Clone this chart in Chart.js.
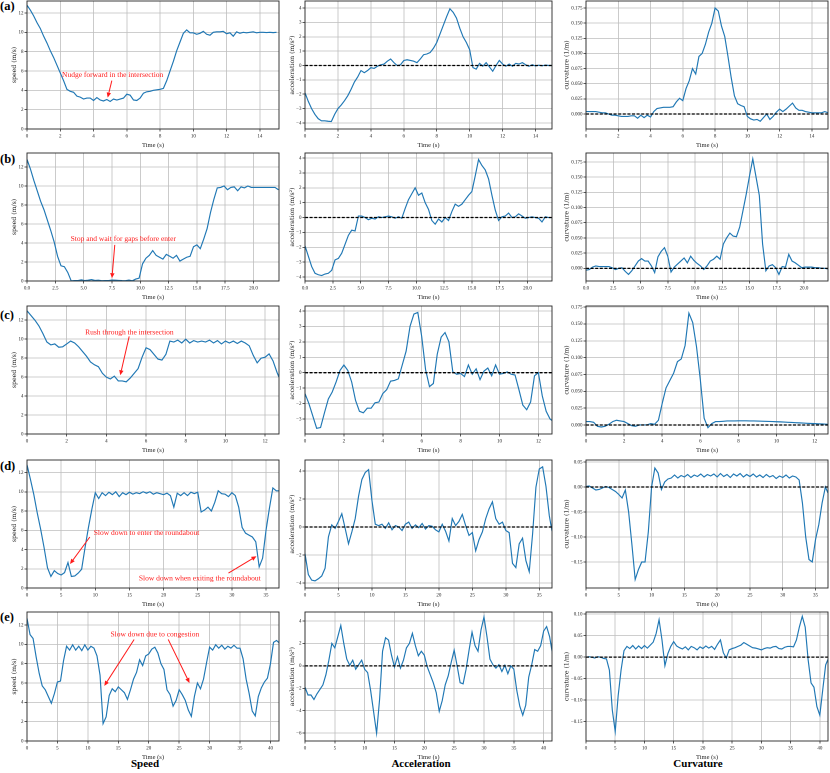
<!DOCTYPE html>
<html><head><meta charset="utf-8">
<script src="https://cdn.jsdelivr.net/npm/chart.js@4.4.1/dist/chart.umd.min.js"></script>
<style>
html,body{margin:0;padding:0;background:#fff;}
#wrap{position:relative;width:830px;height:773px;overflow:hidden;background:#fff;}
#wrap canvas{position:absolute;}
.lab{position:absolute;font-family:"Liberation Serif",serif;font-weight:bold;font-size:12.5px;line-height:12.5px;color:#000;}
.ctit{position:absolute;font-family:"Liberation Serif",serif;font-weight:bold;font-size:11px;line-height:12px;width:120px;text-align:center;color:#000;}
</style></head><body>
<div id="wrap">
<div class="lab" style="left:0px;top:-0.5px">(a)</div>
<div class="lab" style="left:0px;top:152.5px">(b)</div>
<div class="lab" style="left:0px;top:309px">(c)</div>
<div class="lab" style="left:0px;top:459.5px">(d)</div>
<div class="lab" style="left:0px;top:610.5px">(e)</div>
<div class="ctit" style="left:85px;top:757px">Speed</div>
<div class="ctit" style="left:361px;top:757px">Acceleration</div>
<div class="ctit" style="left:638px;top:757px">Curvature</div>
</div>
<script>
// ---------------- data ----------------
const tA = [0,0.2,0.4,0.6,0.8,1,1.2,1.4,1.6,1.8,2,2.2,2.4,2.6,2.8,3,3.2,3.4,3.6,3.8,4,4.2,4.4,4.6,4.8,5,5.2,5.4,5.6,5.8,6,6.2,6.4,6.6,6.8,7,7.2,7.4,7.6,7.8,8,8.2,8.4,8.6,8.8,9,9.2,9.4,9.6,9.8,10,10.2,10.4,10.6,10.8,11,11.2,11.4,11.6,11.8,12,12.2,12.4,12.6,12.8,13,13.2,13.4,13.6,13.8,14,14.2,14.4,14.6,14.8,15];
const speedA = [12.8,12.3,11.7,11.0,10.4,9.6,8.9,8.1,7.4,6.6,5.8,5.0,4.1,3.9,3.8,3.4,3.3,3.1,3.2,3.2,2.95,3.25,3.0,2.9,3.05,2.85,3.1,3.0,3.1,3.2,3.6,3.5,3.0,2.95,3.2,3.7,3.85,3.9,4.0,4.05,4.1,4.2,5.0,6.0,7.0,8.1,9.0,9.9,10.25,9.95,9.95,9.8,9.9,10.1,9.8,9.7,10.0,10.05,10.05,10.1,9.85,9.95,9.6,10.05,9.9,10.0,9.95,10.0,10.05,9.95,10.0,10.0,9.98,10.0,9.97,10.0];
const accA = [-1.9,-2.5,-3.0,-3.4,-3.7,-3.85,-3.85,-3.88,-3.9,-3.4,-3.0,-2.75,-2.45,-2.1,-1.65,-1.15,-0.8,-0.35,-0.5,-0.35,-0.15,-0.2,-0.05,0.05,0.1,0.3,0.45,0.2,0.0,0.05,0.35,0.4,0.35,0.3,0.2,0.45,0.75,0.8,0.9,1.2,1.6,2.2,2.8,3.4,3.95,3.7,3.3,2.6,2.0,1.6,1.1,-0.15,-0.25,0.15,-0.05,0.2,-0.1,-0.4,0.0,0.35,0.1,-0.05,0.1,-0.05,0.15,0.1,0.2,0.05,-0.05,0.05,-0.03,0.02,-0.02,0.03,0.0,0.0];
const curvA = [0.004,0.004,0.004,0.004,0.003,0.002,0.002,0.0,-0.002,-0.002,-0.003,-0.004,-0.004,-0.004,-0.003,-0.003,-0.007,-0.002,-0.006,-0.002,-0.005,0.004,0.009,0.010,0.011,0.011,0.011,0.012,0.020,0.026,0.022,0.042,0.055,0.075,0.066,0.095,0.100,0.115,0.135,0.150,0.175,0.170,0.145,0.128,0.095,0.060,0.030,0.017,0.014,0.012,-0.004,-0.008,-0.010,-0.009,-0.012,-0.006,0.000,-0.009,-0.004,0.003,0.008,0.004,0.008,0.013,0.018,0.010,0.006,0.006,0.004,0.003,0.002,0.002,0.002,0.002,0.004,0.002];

const tB = [0,0.3,0.6,0.9,1.2,1.5,1.8,2.1,2.4,2.7,3,3.3,3.6,3.9,4.2,4.5,4.8,5.1,5.4,5.7,6,6.3,6.6,6.9,7.2,7.5,7.8,8.1,8.4,8.7,9,9.3,9.6,9.9,10.2,10.5,10.8,11.1,11.4,11.7,12,12.3,12.6,12.9,13.2,13.5,13.8,14.1,14.4,14.7,15,15.3,15.6,15.9,16.2,16.5,16.8,17.1,17.4,17.7,18,18.3,18.6,18.9,19.2,19.5,19.8,20.1,20.4,20.7,21,21.3,21.6,21.9,22.2];
const speedB = [12.8,11.8,10.6,9.5,8.4,7.5,6.4,5.3,4.1,2.6,1.6,1.5,0.9,0.02,0.05,0.04,0.12,0.05,0.08,0.15,0.06,0.08,0.03,0.05,0.04,0.1,0.08,0.06,0.04,0.03,0.1,0.02,0.2,0.3,1.8,2.4,2.7,3.2,2.7,2.5,2.3,2.8,2.6,2.4,2.7,2.1,2.3,2.5,2.6,3.6,3.8,3.4,4.4,5.5,7.2,8.6,9.8,9.85,10.0,9.6,9.85,9.9,9.5,9.9,9.8,10.0,9.85,9.85,9.85,9.85,9.85,9.85,9.85,9.85,9.6];
const accB = [-1.9,-2.6,-3.3,-3.75,-3.85,-3.9,-3.8,-3.75,-3.55,-2.85,-2.75,-2.4,-1.8,-1.2,-0.85,-0.9,0.1,0.1,0.0,-0.15,-0.05,-0.1,0.05,0.0,0.05,0.1,0.05,-0.05,0.05,-0.05,0.6,1.2,1.6,2.0,1.5,1.65,1.0,0.55,-0.2,-0.45,-0.1,-0.3,0.0,-0.2,0.4,0.9,0.75,0.9,1.2,1.5,1.75,2.8,3.9,3.5,3.2,2.6,1.5,0.5,-0.2,0.05,0.1,0.3,0.0,0.05,0.25,0.1,-0.05,0.0,0.05,0.0,-0.05,-0.3,0.05,0.0,0.0];
const curvB = [-0.003,-0.002,0.002,0.004,0.003,0.003,0.003,0.003,0.001,-0.002,0.000,0.001,-0.005,-0.010,-0.004,0.004,0.012,0.016,0.012,0.012,0.004,-0.007,0.019,0.028,0.034,0.020,-0.006,0.002,0.007,0.012,0.017,0.009,0.020,0.013,0.008,0.004,-0.002,0.004,0.012,0.015,0.020,0.015,0.040,0.050,0.058,0.053,0.052,0.068,0.095,0.122,0.152,0.180,0.150,0.120,0.040,-0.004,0.004,0.006,0.001,-0.010,0.003,0.002,0.023,0.012,0.009,0.005,0.001,0.002,0.002,0.002,0.001,0.001,0.000,0.000,-0.001];

const tC = [0,0.2,0.4,0.6,0.8,1,1.2,1.4,1.6,1.8,2,2.2,2.4,2.6,2.8,3,3.2,3.4,3.6,3.8,4,4.2,4.4,4.6,4.8,5,5.2,5.4,5.6,5.8,6,6.2,6.4,6.6,6.8,7,7.2,7.4,7.6,7.8,8,8.2,8.4,8.6,8.8,9,9.2,9.4,9.6,9.8,10,10.2,10.4,10.6,10.8,11,11.2,11.4,11.6,11.8,12,12.2,12.4,12.6,12.7];
const speedC = [13.0,12.5,12.0,11.4,10.6,9.7,9.4,9.5,9.15,9.2,9.5,9.8,9.6,9.2,8.7,8.2,7.6,7.3,7.1,6.4,6.0,5.8,6.1,5.6,5.6,5.5,5.9,6.4,6.9,8.1,9.1,8.9,8.4,7.9,7.8,8.4,9.8,9.7,9.9,9.6,10.0,9.6,9.85,9.7,9.8,9.7,9.9,9.6,9.85,9.5,9.8,9.6,9.8,9.55,9.8,9.6,9.3,8.3,7.5,8.0,8.1,8.45,7.7,6.5,6.0];
const accC = [-1.35,-2.0,-2.8,-3.6,-3.55,-2.6,-1.7,-1.25,-0.6,0.15,0.5,0.15,-0.6,-1.8,-2.5,-2.6,-2.3,-2.3,-1.95,-1.9,-1.35,-1.1,-0.55,-0.5,-0.4,0.5,1.4,3.0,3.8,3.9,2.35,0.2,-0.9,-0.7,1.2,2.3,2.6,2.0,0.05,-0.1,-0.05,-0.25,0.5,-0.1,0.25,-0.45,0.1,0.3,-0.2,0.5,-0.1,-0.05,0.05,-0.1,-0.15,-1.1,-2.1,-2.4,-1.9,-0.2,0.0,-1.5,-2.5,-3.0,-3.1];
const curvC = [0.005,0.005,0.004,-0.002,-0.003,-0.002,0.001,0.005,0.007,0.006,0.005,0.002,-0.001,-0.002,0.000,0.000,0.000,0.002,0.001,0.007,0.032,0.055,0.066,0.077,0.094,0.098,0.118,0.166,0.152,0.116,0.067,0.010,-0.004,0.002,0.005,0.005,0.0055,0.006,0.006,0.006,0.0062,0.0062,0.0062,0.006,0.006,0.0058,0.0056,0.0054,0.0052,0.005,0.0048,0.0046,0.0043,0.004,0.0037,0.0034,0.0031,0.0028,0.0025,0.0022,0.002,0.0017,0.0015,0.0012,0.001];

const tD = [0,0.5,1,1.5,2,2.5,3,3.5,4,4.5,5,5.5,6,6.5,7,7.5,8,8.5,9,9.5,10,10.5,11,11.5,12,12.5,13,13.5,14,14.5,15,15.5,16,16.5,17,17.5,18,18.5,19,19.5,20,20.5,21,21.5,22,22.5,23,23.5,24,24.5,25,25.5,26,26.5,27,27.5,28,28.5,29,29.5,30,30.5,31,31.5,32,32.5,33,33.5,34,34.5,35,35.5,36,36.5,36.9];
const speedD = [12.8,11.3,9.7,7.8,6.1,4.2,2.1,1.2,1.8,1.5,1.35,1.6,2.65,1.2,1.25,1.55,1.95,4.2,6.3,8.2,9.9,9.3,9.9,9.6,9.95,9.7,10.0,9.5,9.9,9.7,9.95,9.75,9.9,9.8,10.0,9.85,10.0,9.75,9.9,9.8,9.7,9.85,9.6,8.4,9.85,9.6,9.9,9.6,9.95,9.8,9.95,7.9,8.1,8.4,8.0,8.9,10.1,9.8,9.75,9.5,9.9,9.6,8.4,6.3,5.7,5.5,5.3,4.8,2.2,3.1,6.0,8.3,10.4,10.1,10.1];
const accD = [-1.9,-3.4,-3.8,-3.85,-3.7,-3.5,-2.95,-0.7,0.15,-0.1,0.4,0.95,-0.1,-1.2,-0.35,0.6,2.2,3.4,3.9,4.1,1.9,0.2,0.1,0.2,-0.1,0.3,-0.2,0.1,0.0,-0.25,0.2,0.35,-0.1,0.15,-0.05,0.25,-0.15,0.1,0.05,-0.2,-0.35,0.2,-0.3,-1.0,0.6,0.1,0.4,0.9,0.1,-0.6,-0.4,-1.7,-0.9,-0.35,0.6,1.3,1.8,0.6,0.2,0.35,-0.25,-0.4,-2.6,-2.9,-1.2,-0.8,-2.4,-3.2,-0.5,2.85,4.15,4.3,2.9,0.8,-0.3];
const curvD = [0.001,0.002,-0.002,-0.006,-0.005,-0.002,0.001,-0.001,-0.005,-0.009,-0.015,-0.022,-0.006,-0.05,-0.115,-0.185,-0.165,-0.15,-0.15,-0.09,0.0,0.038,0.028,-0.005,0.01,0.016,0.018,0.024,0.018,0.023,0.02,0.025,0.019,0.024,0.021,0.026,0.02,0.025,0.022,0.026,0.02,0.027,0.021,0.025,0.019,0.026,0.022,0.027,0.02,0.025,0.021,0.026,0.02,0.024,0.019,0.025,0.02,0.023,0.017,0.022,0.019,0.024,0.018,0.022,0.02,0.014,-0.032,-0.1,-0.145,-0.15,-0.105,-0.075,-0.032,0.0,-0.012];

const tE = [0,0.5,1,1.5,2,2.5,3,3.5,4,4.5,5,5.5,6,6.5,7,7.5,8,8.5,9,9.5,10,10.5,11,11.5,12,12.5,13,13.5,14,14.5,15,15.5,16,16.5,17,17.5,18,18.5,19,19.5,20,20.5,21,21.5,22,22.5,23,23.5,24,24.5,25,25.5,26,26.5,27,27.5,28,28.5,29,29.5,30,30.5,31,31.5,32,32.5,33,33.5,34,34.5,35,35.5,36,36.5,37,37.5,38,38.5,39,39.5,40,40.5,41,41.5];
const speedE = [12.7,11.0,10.6,8.7,7.0,5.7,5.3,4.6,3.9,4.9,6.1,6.2,8.3,9.8,9.4,9.95,9.4,9.8,9.35,9.95,9.4,9.8,9.6,8.8,6.8,1.8,2.5,4.7,5.4,5.1,5.6,5.3,5.0,4.3,5.3,6.4,7.1,8.4,7.8,8.8,9.0,9.5,9.7,9.1,8.0,7.4,5.3,4.8,3.6,4.2,5.3,4.8,4.2,3.2,2.55,4.6,6.0,5.4,6.4,8.1,9.7,9.4,9.95,9.6,9.9,9.5,9.8,9.6,9.9,9.6,9.6,8.5,6.4,4.9,3.1,2.6,4.6,5.5,6.1,6.5,8.0,10.2,10.4,10.1];
const accE = [-1.9,-2.6,-2.6,-3.0,-2.5,-2.1,-1.7,-0.8,0.5,2.0,1.6,2.6,3.6,2.0,0.6,0.05,0.5,-0.3,0.1,0.5,-0.3,-0.6,-2.2,-4.1,-6.0,-3.0,1.3,2.5,2.3,0.95,-0.1,0.8,-0.2,0.5,1.6,2.0,2.9,1.8,0.9,1.3,0.95,-0.1,-0.8,-1.5,-2.4,-4.05,-3.1,-1.7,-0.9,0.3,1.4,0.0,-1.5,-1.6,-0.3,1.4,3.0,1.8,1.3,3.2,4.35,2.6,0.6,0.1,-0.2,0.1,-0.5,0.05,-0.7,0.0,-0.3,-2.2,-3.6,-4.4,-3.5,-1.0,0.1,1.45,1.3,1.8,3.1,3.5,2.6,1.0];
const curvE = [0.0,0.001,0.0,-0.002,0.001,0.0,-0.003,-0.004,-0.03,-0.123,-0.173,-0.09,-0.03,0.015,0.025,0.02,0.027,0.019,0.026,0.02,0.027,0.021,0.028,0.035,0.055,0.087,0.04,-0.02,0.008,0.025,0.036,0.026,0.022,0.019,0.024,0.017,0.025,0.022,0.017,0.024,0.02,0.026,0.021,0.025,0.018,0.03,0.04,0.01,-0.002,0.017,0.02,0.022,0.025,0.028,0.034,0.03,0.026,0.022,0.021,0.019,0.017,0.02,0.022,0.021,0.024,0.025,0.02,0.019,0.023,0.025,0.025,0.024,0.04,0.07,0.095,0.07,-0.006,-0.06,-0.07,-0.115,-0.135,-0.076,-0.018,-0.002];

// tick values
const speedTicks = [0,2,4,6,8,10,12];
const accTicks1 = [-4,-3,-2,-1,0,1,2,3,4];
const accTicks2 = [-6,-4,-2,0,2,4];
const curvTicks1 = [0,0.025,0.05,0.075,0.1,0.125,0.15,0.175];
const curvTicks2 = [-0.15,-0.1,-0.05,0,0.05,0.1];
const xTicksA = [0,2,4,6,8,10,12,14];
const xTicksB = [0,2.5,5,7.5,10,12.5,15,17.5,20];
const xTicksC = [0,2,4,6,8,10,12];
const xTicksD = [0,5,10,15,20,25,30,35];
const xTicksE = [0,5,10,15,20,25,30,35,40];

// annotation texts
const noteA = 'Nudge forward in the intersection';
const noteB = 'Stop and wait for gaps before enter';
const noteC = 'Rush through the intersection';
const noteD1 = 'Slow down to enter the roundabout';
const noteD2 = 'Slow down when exiting the roundabout';
const noteE = 'Slow down due to congestion';

// ---------------- layout ----------------
const rowsGeom = [[1,129],[153,281],[306,434],[460,588],[612,741]];
const colsGeom = [[27,279],[305,552],[586,828]];
const YW = 26, XH = 22, PT = 6, PR = 6;
const yTitlePad = [9.6, 9.8, 3.3];
const yTitles = ['speed (m/s)', 'acceleration (m/s\u00b2)', 'curvature (1/m)'];

function fmt(v, d){ return (v < -1e-12 ? '\u2212' : '') + Math.abs(v).toFixed(d); }

const framePlugin = {
  id: 'frame',
  afterDraw(chart){
    const {ctx, chartArea:a} = chart;
    ctx.save();
    ctx.strokeStyle = '#262626'; ctx.lineWidth = 0.9;
    ctx.strokeRect(a.left, a.top, a.right - a.left, a.bottom - a.top);
    ctx.restore();
  }
};
const notePlugin = {
  id: 'notes',
  defaults: { items: [] },
  afterDatasetsDraw(chart, args, opts){
    const items = opts.items || [];
    if (!items.length) return;
    const xs = chart.scales.x, ys = chart.scales.y, ctx = chart.ctx;
    ctx.save();
    ctx.fillStyle = '#ff1a1a'; ctx.strokeStyle = '#ff1a1a';
    ctx.font = '7.5px "Liberation Serif", serif';
    ctx.textAlign = 'center'; ctx.textBaseline = 'middle';
    for (const it of items){
      ctx.fillText(it.text, xs.getPixelForValue(it.tx), ys.getPixelForValue(it.ty));
      for (const ar of it.arrows){
        const x1 = xs.getPixelForValue(ar[0]), y1 = ys.getPixelForValue(ar[1]);
        const x2 = xs.getPixelForValue(ar[2]), y2 = ys.getPixelForValue(ar[3]);
        const ang = Math.atan2(y2 - y1, x2 - x1), hl = 5, hw = 2.2;
        const bx = x2 - hl*Math.cos(ang), by = y2 - hl*Math.sin(ang);
        ctx.lineWidth = 1;
        ctx.beginPath(); ctx.moveTo(x1, y1); ctx.lineTo(bx, by); ctx.stroke();
        ctx.beginPath(); ctx.moveTo(x2, y2);
        ctx.lineTo(bx + hw*Math.sin(ang), by - hw*Math.cos(ang));
        ctx.lineTo(bx - hw*Math.sin(ang), by + hw*Math.cos(ang));
        ctx.closePath(); ctx.fill();
      }
    }
    ctx.restore();
  }
};
Chart.register(framePlugin, notePlugin);
Chart.defaults.font.family = '"Liberation Serif", serif';

const panels = [
  {r:0,c:0,t:tA,v:speedA,x:[0,15.15],xt:xTicksA,xd:0,y:[0,13.24],yt:speedTicks,yd:0,zero:false,
   notes:[{text:noteA,tx:5.15,ty:5.6,arrows:[[5.1,5.0,4.85,3.25]]}]},
  {r:0,c:1,t:tA,v:accA,x:[0,15],xt:xTicksA,xd:0,y:[-4.42,4.49],yt:accTicks1,yd:0,zero:true,notes:[]},
  {r:0,c:2,t:tA,v:curvA,x:[0,15],xt:xTicksA,xd:0,y:[-0.0248,0.1866],yt:curvTicks1,yd:3,zero:true,notes:[]},

  {r:1,c:0,t:tB,v:speedB,x:[0,22.25],xt:xTicksB,xd:1,y:[0,13.47],yt:speedTicks,yd:0,zero:false,
   notes:[{text:noteB,tx:8.5,ty:4.4,arrows:[[7.75,3.8,7.5,0.3]]}]},
  {r:1,c:1,t:tB,v:accB,x:[0,22.2],xt:xTicksB,xd:1,y:[-4.27,4.34],yt:accTicks1,yd:0,zero:true,notes:[]},
  {r:1,c:2,t:tB,v:curvB,x:[0,22.2],xt:xTicksB,xd:1,y:[-0.0208,0.1897],yt:curvTicks1,yd:3,zero:true,notes:[]},

  {r:2,c:0,t:tC,v:speedC,x:[0,12.7],xt:xTicksC,xd:0,y:[0,13.5],yt:speedTicks,yd:0,zero:false,
   notes:[{text:noteC,tx:5.16,ty:10.7,arrows:[[5.15,10.3,4.7,6.2]]}]},
  {r:2,c:1,t:tC,v:accC,x:[0,12.7],xt:xTicksC,xd:0,y:[-3.97,4.32],yt:accTicks1,yd:0,zero:true,notes:[]},
  {r:2,c:2,t:tC,v:curvC,x:[0,12.7],xt:xTicksC,xd:0,y:[-0.0134,0.1766],yt:curvTicks1,yd:3,zero:true,notes:[]},

  {r:3,c:0,t:tD,v:speedD,x:[0,36.9],xt:xTicksD,xd:0,y:[0,13.3],yt:speedTicks,yd:0,zero:false,
   notes:[{text:noteD1,tx:17.5,ty:5.7,arrows:[[9.2,5.3,6.3,2.5]]},
          {text:noteD2,tx:25.3,ty:1.0,arrows:[[29.5,1.55,33.6,3.3]]}]},
  {r:3,c:1,t:tD,v:accD,x:[0,36.9],xt:xTicksD,xd:0,y:[-4.36,4.79],yt:accTicks2,yd:0,zero:true,notes:[]},
  {r:3,c:2,t:tD,v:curvD,x:[0,36.9],xt:xTicksD,xd:0,y:[-0.202,0.054],yt:curvTicks2,yd:2,zero:true,notes:[]},

  {r:4,c:0,t:tE,v:speedE,x:[0,41.4],xt:xTicksE,xd:0,y:[0,13.34],yt:speedTicks,yd:0,zero:false,
   notes:[{text:noteE,tx:21.0,ty:11.0,arrows:[[17.6,10.5,12.7,5.7],[23.2,10.5,26.7,6.0]]}]},
  {r:4,c:1,t:tE,v:accE,x:[0,41.4],xt:xTicksE,xd:0,y:[-6.7,4.8],yt:accTicks2,yd:0,zero:true,notes:[]},
  {r:4,c:2,t:tE,v:curvE,x:[0,41.4],xt:xTicksE,xd:0,y:[-0.195,0.105],yt:curvTicks2,yd:2,zero:true,notes:[]}
];

const wrap = document.getElementById('wrap');
const tickFont = {family:'"Liberation Serif", serif', size:5};
const gridCfg = {color:'#bebebe', lineWidth:0.8, tickLength:2.5, tickColor:'#333', drawTicks:true};

function build(p){
  const [pl, pr] = colsGeom[p.c];
  const [pt, pb] = rowsGeom[p.r];
  const w = YW + (pr - pl) + PR, h = PT + (pb - pt) + XH;
  const cv = document.createElement('canvas');
  cv.width = w; cv.height = h;
  cv.style.left = (pl - YW) + 'px'; cv.style.top = (pt - PT) + 'px';
  cv.style.width = w + 'px'; cv.style.height = h + 'px';
  wrap.appendChild(cv);
  const ds = [{data: p.t.map((x, i) => ({x: x, y: p.v[i]})), borderColor:'#1f77b4', borderWidth:1.15,
               pointRadius:0, tension:0, fill:false, order:1}];
  if (p.zero) ds.push({data:[{x:p.x[0], y:0}, {x:p.x[1], y:0}], borderColor:'#000', borderWidth:1.3,
               borderDash:[3,1.6], pointRadius:0, fill:false, order:0});
  new Chart(cv, {
    type:'line',
    data:{datasets:ds},
    options:{
      responsive:false, animation:false, devicePixelRatio:2,
      layout:{padding:{left:0, top:PT, right:PR, bottom:0}},
      plugins:{legend:{display:false}, tooltip:{enabled:false}, notes:{items:p.notes}},
      scales:{
        x:{type:'linear', min:p.x[0], max:p.x[1],
           afterBuildTicks:(s) => { s.ticks = p.xt.filter(v => v >= p.x[0] && v <= p.x[1]).map(v => ({value:v})); },
           afterFit:(s) => { s.height = XH; s.paddingLeft = 0; s.paddingRight = 0; },
           ticks:{font:tickFont, color:'#222', padding:1.5, maxRotation:0, autoSkip:false, callback:(v) => fmt(v, p.xd)},
           grid:gridCfg, border:{display:false},
           title:{display:true, text:'Time (s)', color:'#222', font:{family:'"Liberation Serif", serif', size:6.5}, padding:{top:0, bottom:1.6}}},
        y:{type:'linear', min:p.y[0], max:p.y[1],
           afterBuildTicks:(s) => { s.ticks = p.yt.filter(v => v >= p.y[0] && v <= p.y[1]).map(v => ({value:v})); },
           afterFit:(s) => { s.width = YW; s.paddingTop = 0; s.paddingBottom = 0; },
           ticks:{font:tickFont, color:'#222', padding:1, autoSkip:false, callback:(v) => fmt(v, p.yd)},
           grid:gridCfg, border:{display:false},
           title:{display:true, text:yTitles[p.c], color:'#222', font:{family:'"DejaVu Serif", serif', size:6.2}, padding:{top:yTitlePad[p.c], bottom:0}}}
      }
    }
  });
}
panels.forEach(build);
</script>
</body></html>
